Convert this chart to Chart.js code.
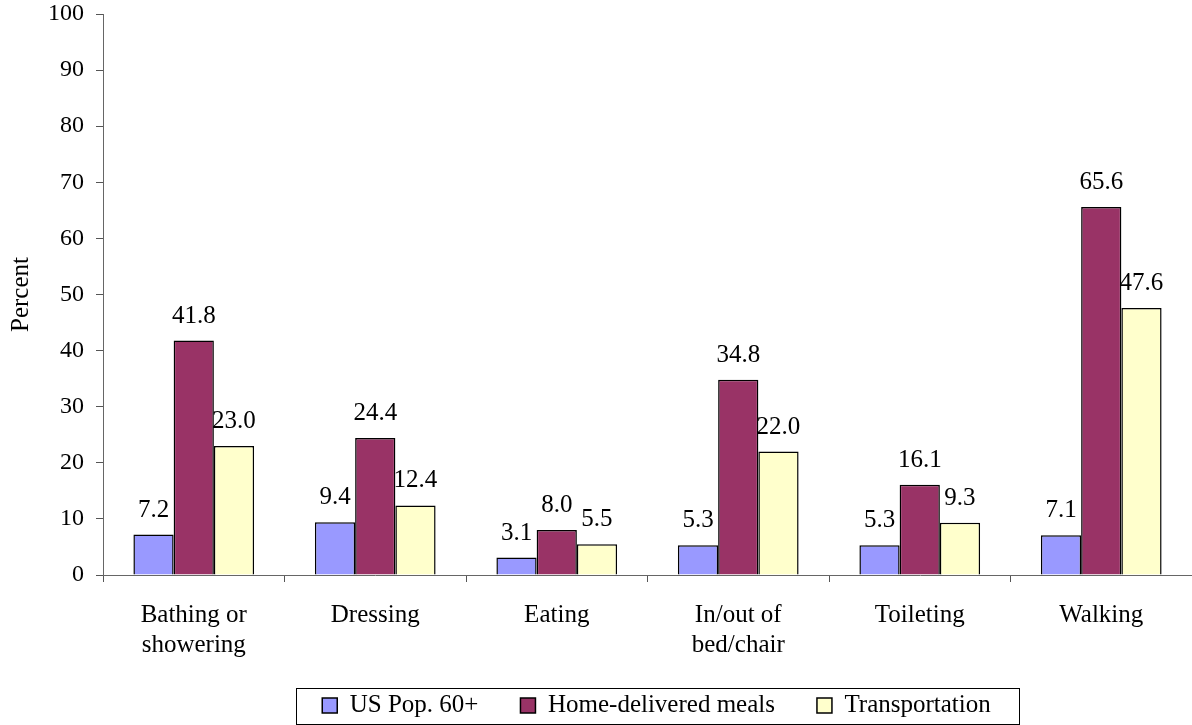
<!DOCTYPE html>
<html>
<head>
<meta charset="utf-8">
<script src="https://cdn.jsdelivr.net/npm/chart.js@4/dist/chart.umd.min.js"></script>
<style>
  html, body { margin: 0; padding: 0; background: #fff; }
  #wrap { width: 1192px; height: 725px; position: relative; }
</style>
</head>
<body>
<div id="wrap"><canvas id="adlChart"></canvas></div>
<script>
// datos
const categories = [
    ['Bathing or', 'showering'],
    'Dressing',
    'Eating',
    ['In/out of', 'bed/chair'],
    'Toileting',
    'Walking'
];
const usPop60 = [7.2, 9.4, 3.1, 5.3, 5.3, 7.1];
const homeMeals = [41.8, 24.4, 8.0, 34.8, 16.1, 65.6];
const transportation = [23.0, 12.4, 5.5, 22.0, 9.3, 47.6];
const yTicks = [0, 10, 20, 30, 40, 50, 60, 70, 80, 90, 100];

const serif = '"Liberation Serif", "Times New Roman", serif';

// etiquetas de valor encima de cada barra
const valueLabels = {
    id: 'valueLabels',
    afterDatasetsDraw(chart) {
        const ctx = chart.ctx;
        ctx.save();
        ctx.font = '25px ' + serif;
        ctx.fillStyle = '#000';
        ctx.textAlign = 'center';
        ctx.textBaseline = 'alphabetic';
        chart.data.datasets.forEach((ds, i) => {
            chart.getDatasetMeta(i).data.forEach((bar, j) => {
                ctx.fillText(ds.data[j].toFixed(1), bar.x, bar.y - 18);
            });
        });
        ctx.restore();
    }
};

// la leyenda va un poco a la derecha y arriba, y con marco
const legendFrame = {
    id: 'legendFrame',
    afterLayout(chart) {
        const lg = chart.legend;
        if (!lg) return;
        lg.left += 9;
        lg.right += 9;
        lg.top -= 10;
    },
    afterDraw(chart) {
        const lg = chart.legend;
        if (!lg || !lg.legendHitBoxes || !lg.legendHitBoxes.length) return;
        const boxes = lg.legendHitBoxes;
        const left = Math.min(...boxes.map(b => b.left)) - 26;
        const right = Math.max(...boxes.map(b => b.left + b.width)) + 28;
        const top = boxes[0].top - 5;
        const bottom = boxes[0].top + 31;
        const ctx = chart.ctx;
        ctx.save();
        ctx.strokeStyle = '#000';
        ctx.lineWidth = 1;
        ctx.strokeRect(Math.round(left) + 0.5, Math.round(top) + 0.5,
            Math.round(right - left), Math.round(bottom - top));
        ctx.restore();
    }
};

new Chart(document.getElementById('adlChart'), {
    type: 'bar',
    data: {
        labels: categories,
        datasets: [
            { label: 'US Pop. 60+', data: usPop60, backgroundColor: '#9999FF' },
            { label: 'Home-delivered meals', data: homeMeals, backgroundColor: '#993366' },
            { label: 'Transportation', data: transportation, backgroundColor: '#FFFFCC' }
        ].map(d => Object.assign(d, { borderColor: '#000', borderWidth: 1.5 }))
    },
    options: {
        responsive: true,
        maintainAspectRatio: false,
        animation: false,
        layout: { padding: { top: 0, right: 0, bottom: 0, left: 0 } },
        datasets: { bar: { categoryPercentage: 0.665, barPercentage: 1 } },
        scales: {
            x: {
                grid: { display: true, drawOnChartArea: false, tickLength: 7, color: '#555', offset: true },
                border: { color: '#666', width: 1 },
                ticks: { color: '#000', font: { family: serif, size: 25, lineHeight: 1.2 }, padding: 18, maxRotation: 0 },
                afterFit(scale) { scale.height = 86; }
            },
            y: {
                min: 0,
                max: 100,
                afterBuildTicks(scale) { scale.ticks = yTicks.map(v => ({ value: v })); },
                grid: { display: true, drawOnChartArea: false, tickLength: 7, color: '#555' },
                border: { color: '#666', width: 1 },
                ticks: { color: '#000', font: { family: serif, size: 24 }, padding: 12 },
                title: { display: true, text: 'Percent', color: '#000', font: { family: serif, size: 25 }, padding: { top: 6, bottom: 0 } },
                afterFit(scale) {
                    scale.width = 103;
                    scale.paddingTop = 14;
                }
            }
        },
        plugins: {
            legend: {
                position: 'bottom',
                fullSize: false,
                maxHeight: 64,
                labels: {
                    color: '#000',
                    font: { family: serif, size: 25 },
                    boxWidth: 15,
                    boxHeight: 15,
                    padding: 42
                }
            },
            tooltip: { enabled: false }
        }
    },
    plugins: [valueLabels, legendFrame]
});
</script>
</body>
</html>
